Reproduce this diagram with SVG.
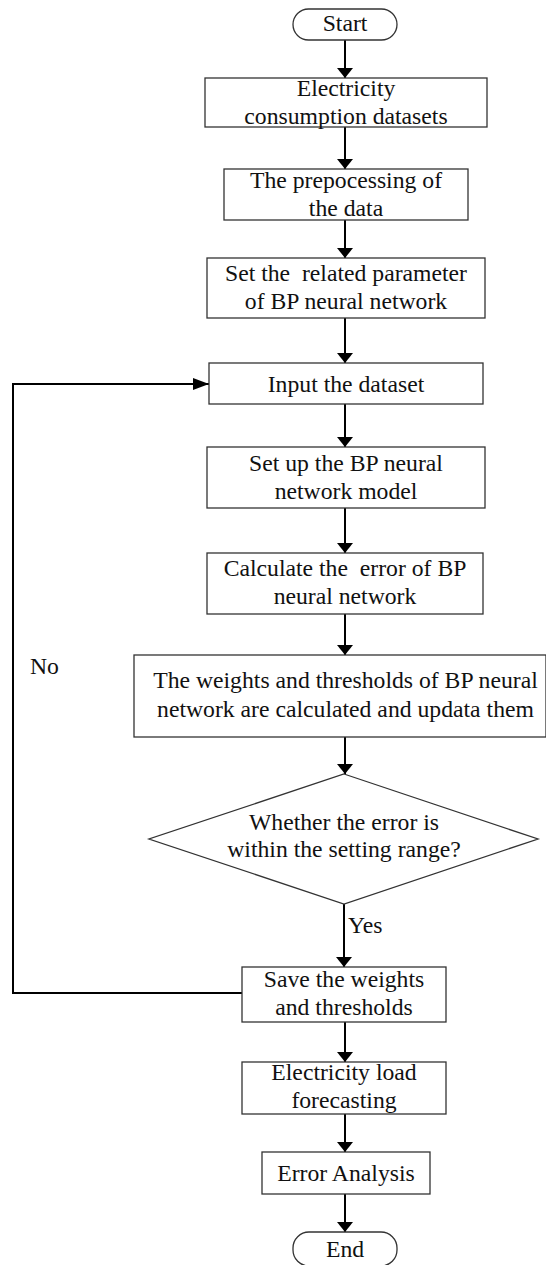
<svg xmlns="http://www.w3.org/2000/svg" width="546" height="1265" viewBox="0 0 546 1265">
<style>
.b{fill:#fff;stroke:#333;stroke-width:1.3}
.t{font-family:"Liberation Serif","Times New Roman",serif;font-size:23.7px;fill:#111;text-anchor:middle;white-space:pre}
.l{font-family:"Liberation Serif","Times New Roman",serif;font-size:23.7px;fill:#111}
.c{fill:none;stroke:#000;stroke-width:2}
</style>
<defs>
<marker id="a" viewBox="0 0 10 16" refX="10" refY="8" markerWidth="10" markerHeight="16" markerUnits="userSpaceOnUse" orient="auto">
<path d="M0,0 L10,8 L0,16 Z" fill="#000"/>
</marker>
<marker id="d" viewBox="0 0 16 12" refX="16" refY="6" markerWidth="16" markerHeight="12" markerUnits="userSpaceOnUse" orient="auto">
<path d="M0,0 L16,6 L0,12 Z" fill="#000"/>
</marker>
</defs>
<rect width="546" height="1265" fill="#fff"/>
<g id="connectors">
<line class="c" x1="345" y1="40" x2="345" y2="78" marker-end="url(#a)"/>
<line class="c" x1="345" y1="127" x2="345" y2="169" marker-end="url(#a)"/>
<line class="c" x1="345" y1="220" x2="345" y2="258" marker-end="url(#a)"/>
<line class="c" x1="345" y1="318" x2="345" y2="363" marker-end="url(#a)"/>
<line class="c" x1="345" y1="404" x2="345" y2="447" marker-end="url(#a)"/>
<line class="c" x1="345" y1="508" x2="345" y2="553" marker-end="url(#a)"/>
<line class="c" x1="345" y1="614" x2="345" y2="655" marker-end="url(#a)"/>
<line class="c" x1="345" y1="737" x2="345" y2="774" marker-end="url(#a)"/>
<line class="c" x1="344" y1="904" x2="344" y2="967" marker-end="url(#a)"/>
<line class="c" x1="345" y1="1022" x2="345" y2="1062" marker-end="url(#a)"/>
<line class="c" x1="345" y1="1114" x2="345" y2="1152" marker-end="url(#a)"/>
<line class="c" x1="345" y1="1194" x2="345" y2="1232" marker-end="url(#a)"/>
<polyline class="c" points="242,993 13,993 13,384 209,384" marker-end="url(#d)"/>
<text class="l" x="30" y="674">No</text>
<text class="l" x="348" y="933">Yes</text>
</g>
<g id="start">
<rect class="b" x="293" y="9" width="104" height="31" rx="15.5"/>
<text class="t" x="345" y="31">Start</text>
</g>
<g id="datasets">
<rect class="b" x="205" y="78" width="282" height="49"/>
<text class="t" x="346" y="96">Electricity</text>
<text class="t" x="346" y="124">consumption datasets</text>
</g>
<g id="preprocess">
<rect class="b" x="224" y="169" width="244" height="51"/>
<text class="t" x="346" y="187.5">The prepocessing of</text>
<text class="t" x="346" y="215.5">the data</text>
</g>
<g id="params">
<rect class="b" x="207" y="258" width="278" height="60"/>
<text class="t" x="346" y="281">Set the  related parameter</text>
<text class="t" x="346" y="309">of BP neural network</text>
</g>
<g id="input">
<rect class="b" x="209" y="363" width="274" height="41"/>
<text class="t" x="346" y="391.5">Input the dataset</text>
</g>
<g id="setup">
<rect class="b" x="207" y="447" width="278" height="61"/>
<text class="t" x="346" y="470.5">Set up the BP neural</text>
<text class="t" x="346" y="498.5">network model</text>
</g>
<g id="calc">
<rect class="b" x="207" y="553" width="276" height="61"/>
<text class="t" x="345" y="575.5">Calculate the  error of BP</text>
<text class="t" x="345" y="603.5">neural network</text>
</g>
<g id="weights">
<rect class="b" x="134" y="655" width="412" height="82"/>
<text class="t" x="345.5" y="688">The weights and thresholds of BP neural</text>
<text class="t" x="345.5" y="717">network are calculated and updata them</text>
</g>
<g id="decision">
<polygon class="b" points="344,774 538,839 344,904 149,839"/>
<text class="t" x="344" y="830">Whether the error is</text>
<text class="t" x="344" y="857">within the setting range?</text>
</g>
<g id="save">
<rect class="b" x="242" y="967" width="204" height="55"/>
<text class="t" x="344" y="987">Save the weights</text>
<text class="t" x="344" y="1015">and thresholds</text>
</g>
<g id="forecast">
<rect class="b" x="242" y="1062" width="204" height="52"/>
<text class="t" x="344" y="1080">Electricity load</text>
<text class="t" x="344" y="1107.5">forecasting</text>
</g>
<g id="analysis">
<rect class="b" x="262" y="1152" width="168" height="42"/>
<text class="t" x="346" y="1180.5">Error Analysis</text>
</g>
<g id="end">
<rect class="b" x="293" y="1232" width="104" height="34" rx="16"/>
<text class="t" x="345" y="1257">End</text>
</g>
</svg>
